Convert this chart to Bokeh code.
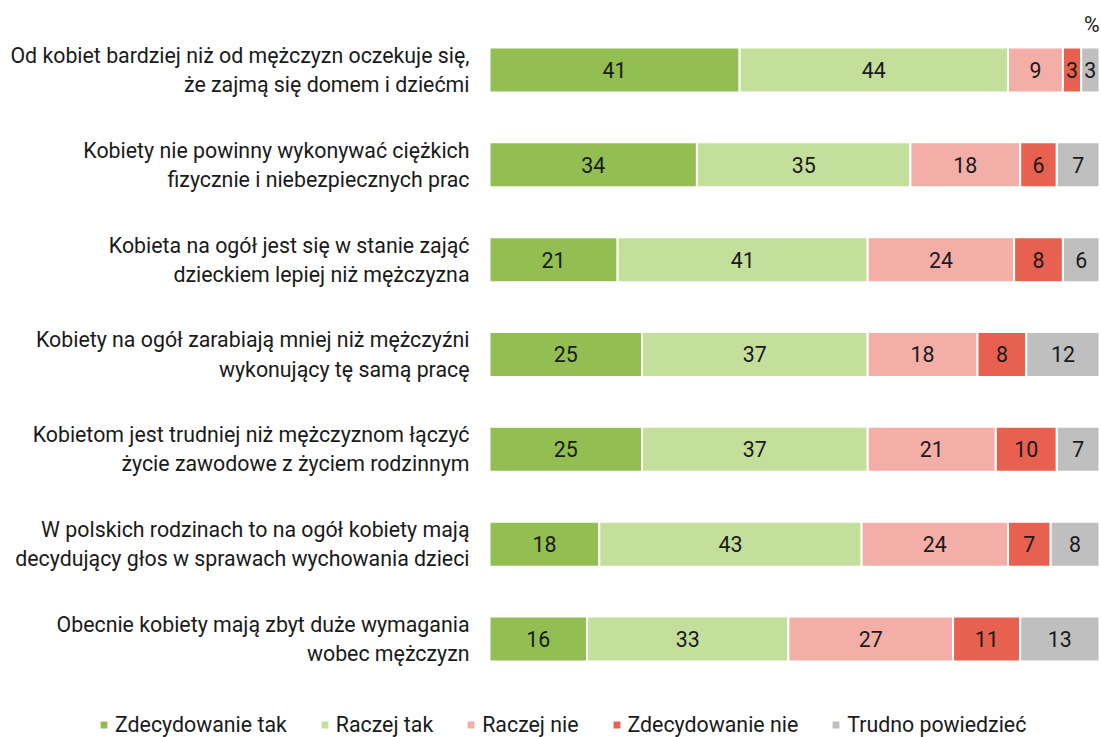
import numpy as np
from bokeh.plotting import figure
from bokeh.models import ColumnDataSource, Range1d, Legend, LegendItem, Label
from bokeh.core.properties import value
from bokeh.embed import file_html
from bokeh.resources import INLINE

# ---------------- data ----------------
categories = [
    "Od kobiet bardziej niż od mężczyzn oczekuje się,\nże zajmą się domem i dziećmi",
    "Kobiety nie powinny wykonywać ciężkich\nfizycznie i niebezpiecznych prac",
    "Kobieta na ogół jest się w stanie zająć\ndzieckiem lepiej niż mężczyzna",
    "Kobiety na ogół zarabiają mniej niż mężczyźni\nwykonujący tę samą pracę",
    "Kobietom jest trudniej niż mężczyznom łączyć\nżycie zawodowe z życiem rodzinnym",
    "W polskich rodzinach to na ogół kobiety mają\ndecydujący głos w sprawach wychowania dzieci",
    "Obecnie kobiety mają zbyt duże wymagania\nwobec mężczyzn",
]
series_names = ["Zdecydowanie tak", "Raczej tak", "Raczej nie",
                "Zdecydowanie nie", "Trudno powiedzieć"]
zdecydowanie_tak = [41, 34, 21, 25, 25, 18, 16]
raczej_tak = [44, 35, 41, 37, 37, 43, 33]
raczej_nie = [9, 18, 24, 18, 21, 24, 27]
zdecydowanie_nie = [3, 6, 8, 8, 10, 7, 11]
trudno_powiedziec = [3, 7, 6, 12, 7, 8, 13]
unit_label = "%"

series_values = [zdecydowanie_tak, raczej_tak, raczej_nie,
                 zdecydowanie_nie, trudno_powiedziec]
colors = ["#92be52", "#c4df9b", "#f3aea8", "#e8604f", "#bfbfbf"]

FONT = "Roboto"
FS = "16pt"
TXT = "#1a1a1a"

n = len(categories)
ys = np.arange(n)

p = figure(width=1101, height=737, output_backend="svg", toolbar_location=None,
           x_range=Range1d(-80.164, 100.328), y_range=Range1d(7.039, -0.7329),
           x_axis_location=None, y_axis_location=None, min_border=0)
p.grid.grid_line_color = None
p.outline_line_color = None
p.background_fill_color = "white"
p.border_fill_color = "white"

left = np.zeros(n)
items = []
for name, vals, color in zip(series_names, series_values, colors):
    vals = np.array(vals, dtype=float)
    right = left + vals
    src = ColumnDataSource(dict(y=ys, left=left, right=right,
                                mid=(left + right) / 2,
                                txt=[str(int(v)) for v in vals]))
    r = p.hbar(y="y", left="left", right="right", height=0.4745,
               fill_color=color, line_color="white", line_width=2, source=src)
    p.text(x="mid", y="y", text="txt", source=src, text_align="center",
           text_baseline="middle", text_font=value(FONT),
           text_font_size=FS, text_color=TXT)
    items.append(LegendItem(label=name, renderers=[r]))
    left = right

# category labels
cat_src = ColumnDataSource(dict(y=ys, text=categories))
p.text(x=-3.279, y="y", text="text", source=cat_src, text_align="right",
       text_baseline="middle", text_font=value(FONT), text_font_size=FS,
       text_color=TXT, text_line_height=1.17)

# unit label
p.add_layout(Label(x=100, y=-0.48, text=unit_label, text_align="right",
                   text_baseline="middle", text_font=FONT,
                   text_font_size=FS, text_color=TXT))

legend = Legend(items=items, orientation="horizontal", location=(98, 0),
                glyph_width=11, glyph_height=11, label_standoff=6, spacing=32,
                padding=0, margin=0, border_line_color=None,
                background_fill_alpha=0, label_text_font=FONT,
                label_text_font_size=FS, label_text_color=TXT,
                label_height=20)
p.add_layout(legend)

open("out.html", "w").write(file_html(p, INLINE))
